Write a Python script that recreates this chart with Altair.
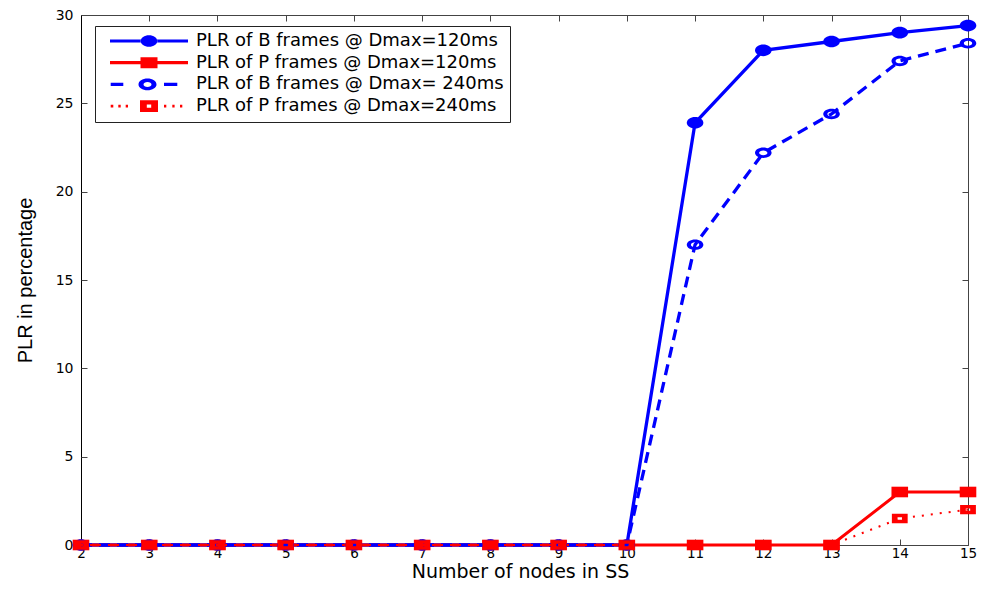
import altair as alt
import pandas as pd

# ---- data ----
nodes = [2, 3, 4, 5, 6, 7, 8, 9, 10, 11, 12, 13, 14, 15]
b_120 = [0, 0, 0, 0, 0, 0, 0, 0, 0, 23.9, 28.0, 28.5, 29.0, 29.4]
p_120 = [0, 0, 0, 0, 0, 0, 0, 0, 0, 0, 0, 0, 3.0, 3.0]
b_240 = [0, 0, 0, 0, 0, 0, 0, 0, 0, 17.0, 22.2, 24.4, 27.4, 28.4]
p_240 = [0, 0, 0, 0, 0, 0, 0, 0, 0, 0, 0, 0, 1.5, 2.0]
series_names = [
    "PLR of B frames @ Dmax=120ms",
    "PLR of P frames @ Dmax=120ms",
    "PLR of B frames @ Dmax= 240ms",
    "PLR of P frames @ Dmax=240ms",
]
x_ticks = [2, 3, 4, 5, 6, 7, 8, 9, 10, 11, 12, 13, 14, 15]
y_ticks = [0, 5, 10, 15, 20, 25, 30]

BLUE = "#0000ff"
RED = "#ff0000"
W, H = 887, 530

rows = []
for name, vals in zip(series_names, [b_120, p_120, b_240, p_240]):
    for n, v in zip(nodes, vals):
        rows.append({"nodes": n, "plr": v, "series": name})
df = pd.DataFrame(rows)

xs = alt.Scale(domain=[2, 15], nice=False, zero=False)
ys = alt.Scale(domain=[0, 30], nice=False, zero=False)

# ---- axes ----
main_x = alt.Axis(orient="bottom", values=x_ticks, title="Number of nodes in SS",
                  domain=False, ticks=False, grid=False, labelFlush=False, labelOverlap=False,
                  labelFont="DejaVu Sans", labelFontSize=13.5, labelColor="black", labelPadding=1,
                  titleFont="DejaVu Sans", titleFontSize=19, titleFontWeight="normal",
                  titleColor="black", titleX=439, titleY=36, titleBaseline="bottom")
main_y = alt.Axis(orient="left", values=y_ticks, title="PLR in percentage",
                  domain=True, domainColor="black", domainWidth=1, ticks=False, grid=False,
                  labelFont="DejaVu Sans", labelFontSize=14, labelColor="black", labelPadding=8,
                  titleFont="Liberation Sans", titleFontSize=20, titleFontWeight="normal",
                  titleColor="black", titleX=-50, titleY=265, titleAngle=-90,
                  titleBaseline="alphabetic")
tick_kw = dict(labels=False, domain=False, ticks=True, tickSize=6, tickColor="#444",
               tickWidth=1, grid=False, title=None)
x_in_bottom = alt.Axis(orient="top", offset=-H, values=x_ticks, **tick_kw)
x_in_top = alt.Axis(orient="bottom", offset=-H, values=x_ticks, **tick_kw)
y_in_left = alt.Axis(orient="right", offset=-W, values=y_ticks, **tick_kw)
y_in_right = alt.Axis(orient="left", offset=-W, values=y_ticks, **tick_kw)


def enc(chart, xa=None, ya=None):
    return chart.encode(
        x=alt.X("nodes:Q", scale=xs, axis=xa),
        y=alt.Y("plr:Q", scale=ys, axis=ya),
    )


def sel(name):
    return alt.Chart(df).transform_filter(alt.datum.series == name)


# marker shapes (px, size=4 -> unit scale)
m_b120 = "M-8.3,0A8.3,5.8 0 1,0 8.3,0A8.3,5.8 0 1,0 -8.3,0Z"
m_p120 = "M-8.3,-5.3L8.3,-5.3L8.3,5.3L-8.3,5.3Z"
m_b240 = ("M-8.3,0A8.3,5.2 0 1,0 8.3,0A8.3,5.2 0 1,0 -8.3,0Z "
          "M-4.2,0A4.2,2.4 0 1,1 4.2,0A4.2,2.4 0 1,1 -4.2,0Z")
m_p240 = "M-7.9,-4.7L7.9,-4.7L7.9,4.7L-7.9,4.7Z M-2.2,-1.2L-2.2,1.2L2.2,1.2L2.2,-1.2Z"

# legend symbols (line + marker)
lg_b120 = ("M-39,-1.6L-8,-1.6L-8,1.6L-39,1.6Z M8,-1.6L39,-1.6L39,1.6L8,1.6Z "
           "M-8.3,0A8.3,5.8 0 1,0 8.3,0A8.3,5.8 0 1,0 -8.3,0Z")
lg_p120 = ("M-39,-1.6L-8.5,-1.6L-8.5,1.6L-39,1.6Z M8.5,-1.6L39,-1.6L39,1.6L8.5,1.6Z "
           "M-8.5,-5.5L8.5,-5.5L8.5,5.5L-8.5,5.5Z")
lg_b240 = ("M-38.3,-1.7L-25.7,-1.7L-25.7,1.7L-38.3,1.7Z M15,-1.7L28.3,-1.7L28.3,1.7L15,1.7Z "
           "M-10.5,0A9,5.8 0 1,0 7.5,0A9,5.8 0 1,0 -10.5,0Z "
           "M-5.5,0A4,2.5 0 1,1 2.5,0A4,2.5 0 1,1 -5.5,0Z")
lg_p240 = ("M-38.3,-1.4L-35.7,-1.4L-35.7,1.4L-38.3,1.4Z "
           "M-30.7,-1.4L-28.3,-1.4L-28.3,1.4L-30.7,1.4Z "
           "M-23.3,-1.4L-21,-1.4L-21,1.4L-23.3,1.4Z "
           "M15,-1.4L17.3,-1.4L17.3,1.4L15,1.4Z "
           "M23.3,-1.4L25.6,-1.4L25.6,1.4L23.3,1.4Z "
           "M31,-1.4L33.3,-1.4L33.3,1.4L31,1.4Z "
           "M-9,-5.8L9,-5.8L9,5.8L-9,5.8Z M-2.2,-1.7L-2.2,1.7L2.2,1.7L2.2,-1.7Z")

layers = [
    enc(sel(series_names[0]).mark_line(color=BLUE, strokeWidth=3.3), main_x, main_y),
    enc(sel(series_names[0]).mark_point(shape=m_b120, filled=True, color=BLUE, opacity=1, size=4),
        x_in_bottom, y_in_left),
    enc(sel(series_names[1]).mark_line(color=RED, strokeWidth=3), x_in_top, y_in_right),
    enc(sel(series_names[1]).mark_point(shape=m_p120, filled=True, color=RED, opacity=1, size=4)),
    enc(sel(series_names[2]).mark_line(color=BLUE, strokeWidth=3.3, strokeDash=[11, 7])),
    enc(sel(series_names[2]).mark_point(shape=m_b240, filled=True, color=BLUE, opacity=1, size=4)),
    enc(sel(series_names[3]).mark_line(color=RED, strokeWidth=2, strokeDash=[2, 7])),
    enc(sel(series_names[3]).mark_point(shape=m_p240, filled=True, color=RED, opacity=1, size=4)),
]

legend = alt.Legend(orient="none", legendX=14, legendY=11, title=None, padding=6,
                    strokeColor="#222", fillColor="white",
                    labelFont="DejaVu Sans", labelFontSize=18, labelColor="black", labelLimit=600,
                    symbolSize=4, symbolOffset=39, labelOffset=38, rowPadding=3.7,
                    symbolStrokeWidth=0, symbolOpacity=1)

legend_layer = alt.Chart(df).transform_filter("false").mark_point(
    filled=True, opacity=1, size=4
).encode(
    x=alt.X("nodes:Q", scale=xs, axis=None),
    y=alt.Y("plr:Q", scale=ys, axis=None),
    color=alt.Color("series:N", scale=alt.Scale(domain=series_names, range=[BLUE, RED, BLUE, RED]),
                    legend=legend),
    shape=alt.Shape("series:N", scale=alt.Scale(domain=series_names,
                                                range=[lg_b120, lg_p120, lg_b240, lg_p240]),
                    legend=legend),
)

chart = alt.layer(*layers, legend_layer).resolve_axis(
    x="independent", y="independent"
).properties(
    width=W, height=H,
    autosize=alt.AutoSizeParams(type="none"),
    padding={"left": 73, "top": 7, "right": 9, "bottom": 36},
    background="white",
).configure_view(stroke="#444", strokeWidth=1)

chart.save("out.html", embed_options={"renderer": "svg", "actions": False})
